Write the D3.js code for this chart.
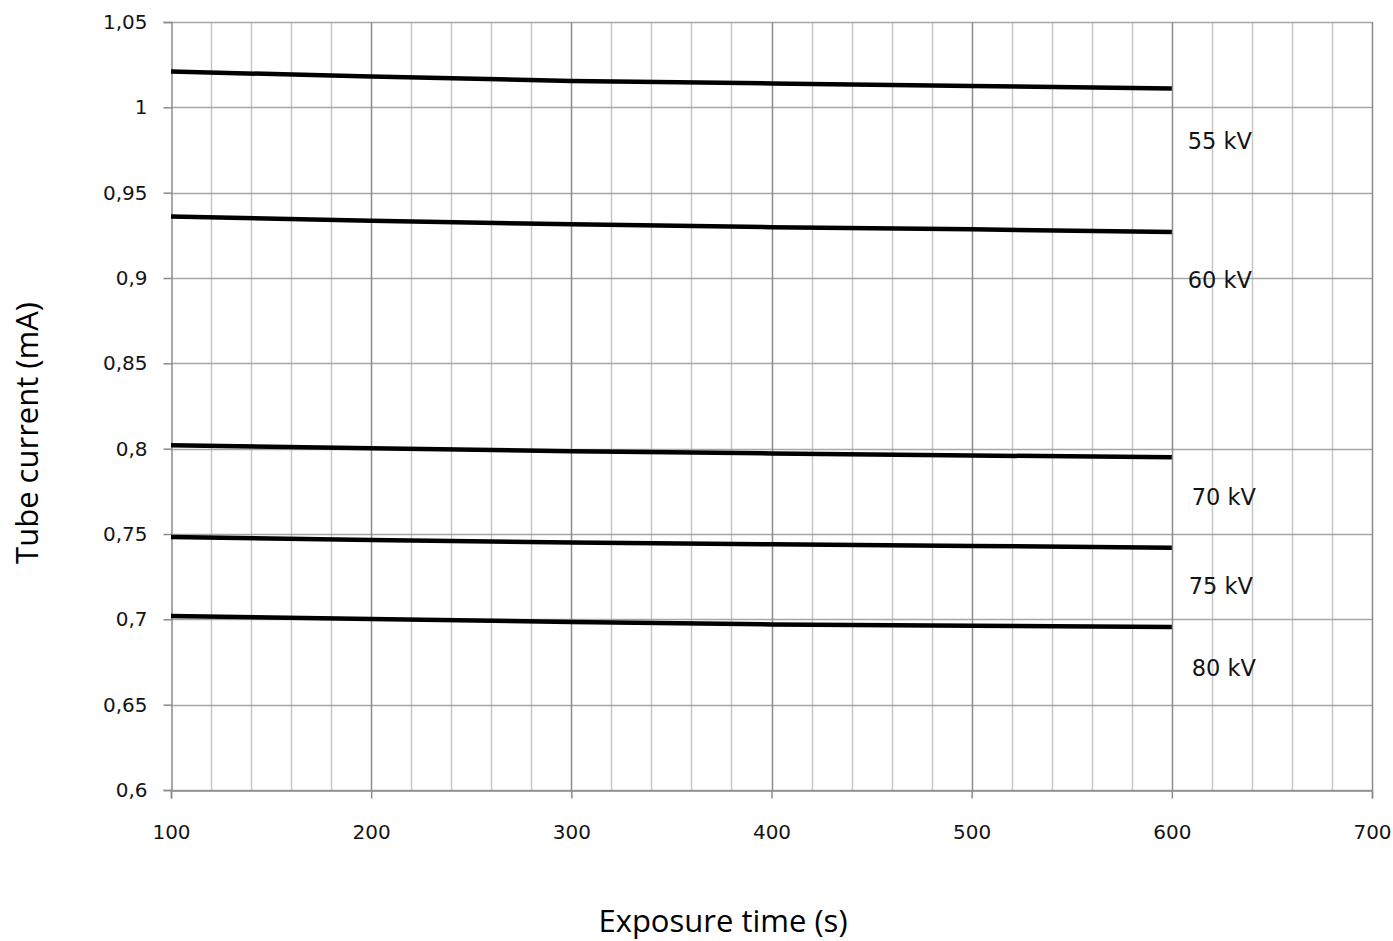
<!DOCTYPE html>
<html>
<head>
<meta charset="utf-8">
<script src="https://cdn.jsdelivr.net/npm/d3@7"></script>
<style>
  body { margin: 0; background: #fff; }
  .tick text { font-family: "DejaVu Sans", Verdana, sans-serif; font-size: 20px; fill: #141414; }
  .title { font-family: "Open Sans", "Noto Sans", sans-serif; font-size: 31px; fill: #000; }
  .lbl { font-family: "DejaVu Sans", Verdana, sans-serif; font-size: 22.5px; fill: #141414; }
</style>
</head>
<body>
<div class="chart"></div>
<script>
// exposure time (s)
const times = [100, 200, 300, 400, 500, 600];
// tube current (mA) per kV setting
const kv55 = [1.021, 1.018, 1.0155, 1.014, 1.0125, 1.011];
const kv60 = [0.936, 0.9335, 0.9315, 0.9298, 0.9285, 0.927];
const kv70 = [0.802, 0.8002, 0.7985, 0.7972, 0.796, 0.795];
const kv75 = [0.7482, 0.7465, 0.745, 0.744, 0.743, 0.742];
const kv80 = [0.702, 0.7002, 0.6985, 0.697, 0.6962, 0.6955];
const seriesNames = ["55 kV", "60 kV", "70 kV", "75 kV", "80 kV"];
// where the series labels sit (data units)
const labelX = [624, 624, 626, 624.5, 626];
const labelY = [0.9803, 0.8988, 0.7717, 0.7196, 0.6714];

const xTicks = [100, 200, 300, 400, 500, 600, 700];
const yTicks = [0.6, 0.65, 0.7, 0.75, 0.8, 0.85, 0.9, 0.95, 1, 1.05];

init();

function init() {
  const width = 1393, height = 941;
  const margin = { top: 22, right: 21, bottom: 151, left: 171 };

  const svg = d3.select(".chart").append("svg")
    .attr("width", width)
    .attr("height", height);

  const x = d3.scaleLinear().domain([100, 700]).range([margin.left, width - margin.right]);
  const y = d3.scaleLinear().domain([0.6, 1.05]).range([height - margin.bottom, margin.top]);

  const grid = svg.append("g");

  // minor verticals every 20 s
  grid.selectAll("line.minor")
    .data(d3.range(120, 700, 20).filter(v => v % 100 !== 0))
    .join("line")
    .attr("class", "minor")
    .attr("x1", d => Math.round(x(d)) + 0.5).attr("x2", d => Math.round(x(d)) + 0.5)
    .attr("y1", y(1.05)).attr("y2", y(0.6))
    .attr("stroke", "#c6c6c6").attr("stroke-width", 1.5);

  // horizontal grid
  grid.selectAll("line.h")
    .data(yTicks)
    .join("line")
    .attr("class", "h")
    .attr("x1", x(100)).attr("x2", x(700))
    .attr("y1", d => Math.round(y(d)) + 0.5).attr("y2", d => Math.round(y(d)) + 0.5)
    .attr("stroke", "#a6a6a6").attr("stroke-width", 1.5);

  // major verticals
  grid.selectAll("line.major")
    .data(xTicks.slice(1))
    .join("line")
    .attr("class", "major")
    .attr("x1", d => Math.round(x(d)) + 0.5).attr("x2", d => Math.round(x(d)) + 0.5)
    .attr("y1", y(1.05)).attr("y2", y(0.6))
    .attr("stroke", "#8c8c8c").attr("stroke-width", 1.5);

  const fmt = d => String(d).replace(".", ",");

  const yAxis = svg.append("g")
    .attr("transform", `translate(${Math.round(x(100)) + 0.5},0)`)
    .call(d3.axisLeft(y).tickValues(yTicks).tickFormat(fmt).tickSize(8).tickPadding(16));
  yAxis.select(".domain").attr("stroke", "#8c8c8c").attr("stroke-width", 1.5);
  yAxis.selectAll(".tick line").attr("stroke", "#8c8c8c").attr("stroke-width", 1.5);

  const xAxis = svg.append("g")
    .attr("transform", `translate(0,${Math.round(y(0.6)) + 0.5})`)
    .call(d3.axisBottom(x).tickValues(xTicks).tickSize(8).tickPadding(26));
  xAxis.select(".domain").attr("stroke", "#8c8c8c").attr("stroke-width", 1.5);
  xAxis.selectAll(".tick line").attr("stroke", "#8c8c8c").attr("stroke-width", 1.5);

  // series lines
  const line = d3.line().x((d, i) => x(times[i])).y(d => y(d));
  svg.append("g").selectAll("path")
    .data([kv55, kv60, kv70, kv75, kv80])
    .join("path")
    .attr("d", line)
    .attr("fill", "none")
    .attr("stroke", "#000")
    .attr("stroke-width", 4.5);

  svg.append("g").selectAll("text")
    .data(seriesNames)
    .join("text")
    .attr("class", "lbl")
    .attr("x", (d, i) => x(labelX[i]))
    .attr("y", (d, i) => y(labelY[i]))
    .attr("dy", "0.35em")
    .attr("text-anchor", "middle")
    .text(d => d);

  svg.append("text")
    .attr("class", "title")
    .attr("x", 723).attr("y", 932)
    .attr("text-anchor", "middle")
    .text("Exposure time (s)");

  svg.append("text")
    .attr("class", "title")
    .attr("transform", "translate(38,433) rotate(-90)")
    .attr("text-anchor", "middle")
    .text("Tube current (mA)");
}
</script>
</body>
</html>
